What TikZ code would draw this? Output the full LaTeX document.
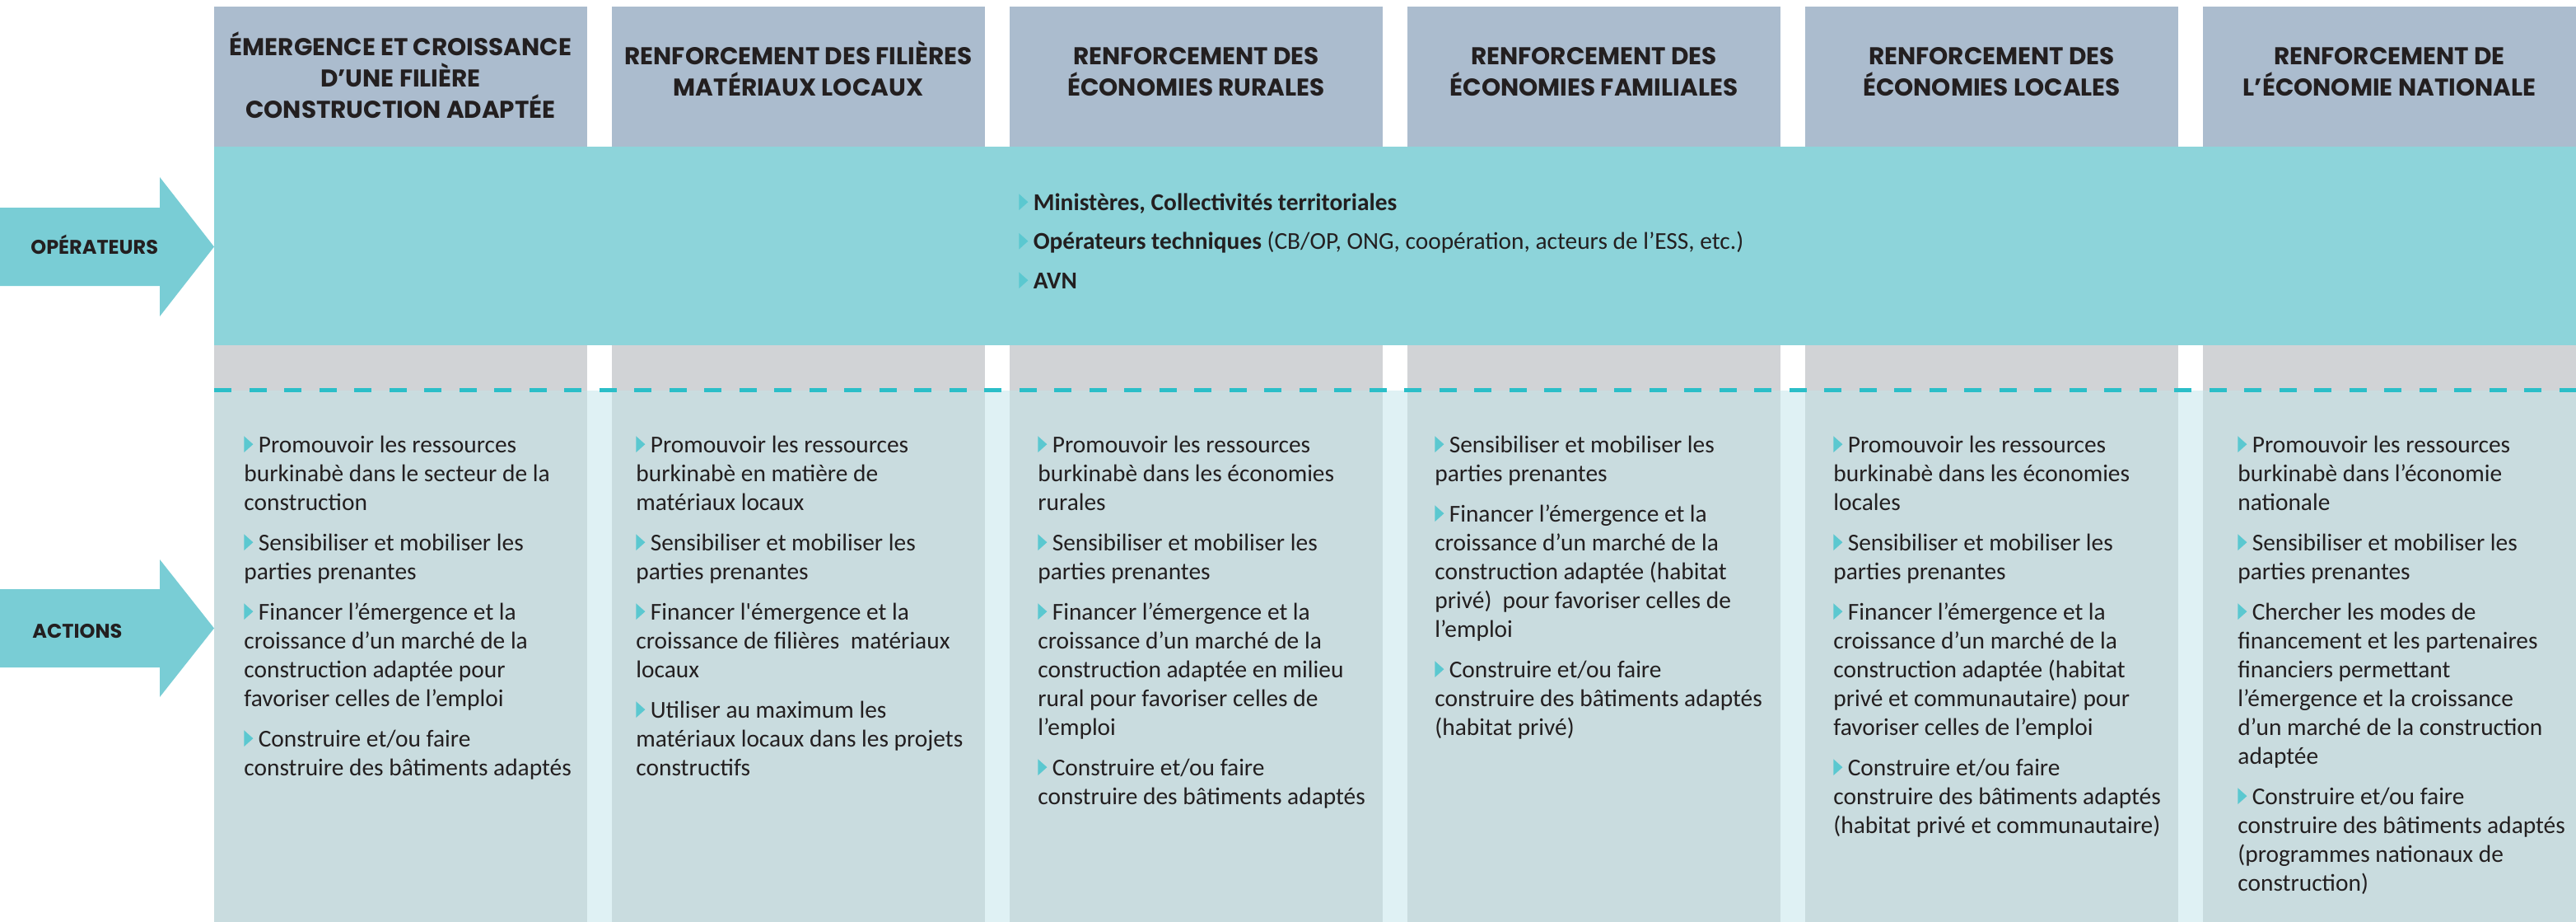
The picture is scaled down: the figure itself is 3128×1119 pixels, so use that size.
\documentclass[tikz,border=0pt]{standalone}
\usepackage{fontspec}
\setmainfont{Carlito}
\newfontfamily\headfont{Poppins}
\definecolor{headc}{HTML}{ABBCCE}
\definecolor{tealc}{HTML}{8DD4DA}
\definecolor{grayc}{HTML}{D1D3D6}
\definecolor{bodyc}{HTML}{C9DCDF}
\definecolor{gapc}{HTML}{DFF1F4}
\definecolor{arrowc}{HTML}{79CDD5}
\definecolor{dashc}{HTML}{2BBEC8}
\definecolor{bulc}{HTML}{5BC8D0}
\definecolor{txtc}{HTML}{231F20}
\newcommand\bul{\tikz[baseline=0pt]\fill[bulc](0pt,0pt)--(0pt,9.8pt)--(5.5pt,4.9pt)--cycle;\hspace{3.2pt}}
\newcommand\colbox[1]{\parbox[t]{300pt}{\fontsize{14.7pt}{17.5pt}\selectfont\raggedright\setlength\parskip{7pt}#1}}
\newcommand\headbox[1]{\parbox[t]{230pt}{\centering\headfont\bfseries\fontsize{14.75pt}{19.25pt}\selectfont #1}}
\tikzset{
  txt/.style={inner sep=0pt, text=txtc},
  headtxt/.style={txt, anchor=base},
  bodytxt/.style={txt, anchor=base west},
  sidelabel/.style={txt, anchor=base west, font=\headfont\bfseries\fontsize{12pt}{14pt}\selectfont},
  sidearrow/.style={fill=arrowc},
  dashline/.style={draw=dashc, line width=2.5pt, dash pattern=on 10.5pt off 10.75pt}
}
\begin{document}
\begin{tikzpicture}[x=0.5pt,y=-0.5pt]
\useasboundingbox (0,0) rectangle (3128,1119);
% columns
\foreach \L/\R in {260/713,743/1196,1226/1679,1709/2162,2192/2645,2675/3128}{
  \fill[headc] (\L,8) rectangle (\R,178);
  \fill[grayc] (\L,419) rectangle (\R,474);
  \fill[bodyc] (\L,474) rectangle (\R,1119);
}
\foreach \L/\R in {713/743,1196/1226,1679/1709,2162/2192,2645/2675}{
  \fill[gapc] (\L,474) rectangle (\R,1119);
}
% teal band
\fill[tealc] (260,178) rectangle (3128,419);
% dashed separator
\coordinate (dA) at (260,473.5);
\coordinate (dB) at (3128,473.5);
\draw[dashline] (dA) -- (dB);
% side arrows
\fill[sidearrow] (0,252) -- (194,252) -- (194,215) -- (260,299.5) -- (194,384) -- (194,347) -- (0,347) -- cycle;
\fill[sidearrow] (0,715) -- (194,715) -- (194,679) -- (260,762.5) -- (194,846) -- (194,810) -- (0,810) -- cycle;
\node[sidelabel] (lop) at (37,308) {OPÉRATEURS};
\node[sidelabel] (lact) at (39,774) {ACTIONS};
% headers
\node[headtxt] (h1) at (486.5,67) {\headbox{ÉMERGENCE ET CROISSANCE\\D’UNE FILIÈRE\\CONSTRUCTION ADAPTÉE}};
\node[headtxt] (h2) at (969.5,78) {\headbox{RENFORCEMENT DES FILIÈRES\\MATÉRIAUX LOCAUX}};
\node[headtxt] (h3) at (1452.5,78) {\headbox{RENFORCEMENT DES\\ÉCONOMIES RURALES}};
\node[headtxt] (h4) at (1935.5,78) {\headbox{RENFORCEMENT DES\\ÉCONOMIES FAMILIALES}};
\node[headtxt] (h5) at (2418.5,78) {\headbox{RENFORCEMENT DES\\ÉCONOMIES LOCALES}};
\node[headtxt] (h6) at (2901.5,78) {\headbox{RENFORCEMENT DE\\L’ÉCONOMIE NATIONALE}};
% operators
\node[bodytxt] (op) at (1237,255) {\parbox[t]{600pt}{\fontsize{14.7pt}{17.5pt}\selectfont\setlength\parskip{6.25pt}%
\bul\textbf{Ministères, Collectivités territoriales}\par
\bul\textbf{Opérateurs techniques} (CB/OP, ONG, coopération, acteurs de l’ESS, etc.)\par
\bul\textbf{AVN}}};
% actions
\node[bodytxt] (t1) at (296,549) {\colbox{%
\bul Promouvoir les ressources\\burkinabè dans le secteur de la\\construction\par
\bul Sensibiliser et mobiliser les\\parties prenantes\par
\bul Financer l’émergence et la\\croissance d’un marché de la\\construction adaptée pour\\favoriser celles de l’emploi\par
\bul Construire et/ou faire\\construire des bâtiments adaptés}};
\node[bodytxt] (t2) at (772,549) {\colbox{%
\bul Promouvoir les ressources\\burkinabè en matière de\\matériaux locaux\par
\bul Sensibiliser et mobiliser les\\parties prenantes\par
\bul Financer l\textquotesingle émergence et la\\croissance de filières~ matériaux\\locaux\par
\bul Utiliser au maximum les\\matériaux locaux dans les projets\\constructifs}};
\node[bodytxt] (t3) at (1260,549) {\colbox{%
\bul Promouvoir les ressources\\burkinabè dans les économies\\rurales\par
\bul Sensibiliser et mobiliser les\\parties prenantes\par
\bul Financer l’émergence et la\\croissance d’un marché de la\\construction adaptée en milieu\\rural pour favoriser celles de\\l’emploi\par
\bul Construire et/ou faire\\construire des bâtiments adaptés}};
\node[bodytxt] (t4) at (1742,549) {\colbox{%
\bul Sensibiliser et mobiliser les\\parties prenantes\par
\bul Financer l’émergence et la\\croissance d’un marché de la\\construction adaptée (habitat\\privé)~ pour favoriser celles de\\l’emploi\par
\bul Construire et/ou faire\\construire des bâtiments adaptés\\(habitat privé)}};
\node[bodytxt] (t5) at (2226,549) {\colbox{%
\bul Promouvoir les ressources\\burkinabè dans les économies\\locales\par
\bul Sensibiliser et mobiliser les\\parties prenantes\par
\bul Financer l’émergence et la\\croissance d’un marché de la\\construction adaptée (habitat\\privé et communautaire) pour\\favoriser celles de l’emploi\par
\bul Construire et/ou faire\\construire des bâtiments adaptés\\(habitat privé et communautaire)}};
\node[bodytxt] (t6) at (2717,549) {\colbox{%
\bul Promouvoir les ressources\\burkinabè dans l’économie\\nationale\par
\bul Sensibiliser et mobiliser les\\parties prenantes\par
\bul Chercher les modes de\\financement et les partenaires\\financiers permettant\\l’émergence et la croissance\\d’un marché de la construction\\adaptée\par
\bul Construire et/ou faire\\construire des bâtiments adaptés\\(programmes nationaux de\\construction)}};
\end{tikzpicture}
\end{document}
